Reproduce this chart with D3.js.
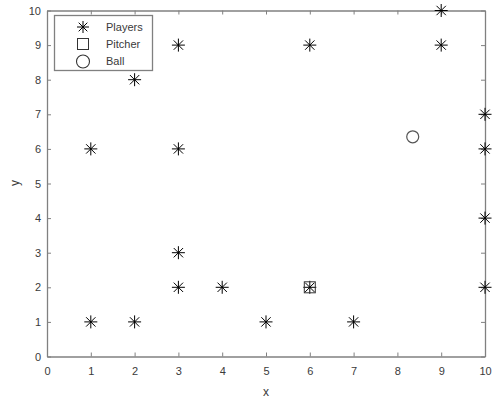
<!DOCTYPE html>
<html>
<head>
<meta charset="utf-8">
<script src="https://cdn.jsdelivr.net/npm/d3@7"></script>
<style>
  body { margin: 0; background: #fff; }
  svg { display: block; font-family: "Liberation Sans", Arial, sans-serif; }
</style>
</head>
<body>
<svg id="chart" width="492" height="399"></svg>
<script>
// Field positions
const playerX = [1, 2, 1, 2, 3, 3, 3, 3, 4, 5, 6, 6, 7, 9, 9, 10, 10, 10, 10];
const playerY = [1, 1, 6, 8, 9, 6, 3, 2, 2, 1, 9, 2, 1, 10, 9, 7, 6, 4, 2];
const pitcherX = [6];
const pitcherY = [2];
const ballX = [8.35];
const ballY = [6.35];
const xTicks = [0, 1, 2, 3, 4, 5, 6, 7, 8, 9, 10];
const yTicks = [0, 1, 2, 3, 4, 5, 6, 7, 8, 9, 10];
const legendLabels = ["Players", "Pitcher", "Ball"];

const svg = d3.select("#chart");
const plotLeft = 47, plotRight = 485, plotTop = 10.5, plotBottom = 356.5;
const axisColor = "#808080";
const textColor = "#3a3a3a";

const x = d3.scaleLinear().domain([0, 10]).range([plotLeft, plotRight]);
const y = d3.scaleLinear().domain([0, 10]).range([plotBottom, plotTop]);

// Axes: inward ticks on all four sides
const tickLen = 4;
const axes = [
  { g: d3.axisBottom(x), t: `translate(0,${plotBottom})`, labels: true, pad: 11 },
  { g: d3.axisTop(x), t: `translate(0,${plotTop})`, labels: false, pad: 8 },
  { g: d3.axisLeft(y), t: `translate(${plotLeft},0)`, labels: true, pad: 6 },
  { g: d3.axisRight(y), t: `translate(${plotRight},0)`, labels: false, pad: 8 }
];
axes.forEach((a, i) => {
  const vals = i < 2 ? xTicks : yTicks;
  const ax = a.g.tickValues(vals).tickSizeInner(-tickLen).tickSizeOuter(0)
    .tickPadding(a.pad).tickFormat(a.labels ? d3.format("d") : () => "");
  const g = svg.append("g").attr("transform", a.t).call(ax);
  g.select(".domain").attr("stroke", axisColor).attr("stroke-width", 1.3);
  g.selectAll(".tick line").attr("stroke", axisColor).attr("stroke-width", 1);
  g.selectAll(".tick text").attr("fill", textColor).style("font-size", "11px")
    .style("font-family", "'Liberation Sans', Arial, sans-serif");
});

// Axis titles
svg.append("text").attr("x", 266).attr("y", 396)
  .attr("text-anchor", "middle").attr("fill", textColor)
  .style("font-size", "12px").text("x");
svg.append("text")
  .attr("transform", `translate(19,${183}) rotate(-90)`)
  .attr("text-anchor", "middle").attr("fill", textColor)
  .style("font-size", "12px").text("y");

// Asterisk marker: a plus and a cross
function asterisk(g, cx, cy, r) {
  const d = r * 0.72;
  const p = `M${cx - r},${cy}H${cx + r}M${cx},${cy - r}V${cy + r}` +
    `M${cx - d},${cy - d}L${cx + d},${cy + d}M${cx - d},${cy + d}L${cx + d},${cy - d}`;
  g.append("path").attr("d", p).attr("stroke", "#000").attr("stroke-width", 1).attr("fill", "none");
}

const marks = svg.append("g");
playerX.forEach((px, i) => asterisk(marks, x(px), y(playerY[i]), 6.5));

pitcherX.forEach((px, i) => {
  marks.append("rect")
    .attr("x", x(px) - 5.5).attr("y", y(pitcherY[i]) - 5.5)
    .attr("width", 11).attr("height", 11)
    .attr("fill", "none").attr("stroke", "#333").attr("stroke-width", 1);
});

ballX.forEach((bx, i) => {
  marks.append("circle")
    .attr("cx", x(bx)).attr("cy", y(ballY[i])).attr("r", 6)
    .attr("fill", "none").attr("stroke", "#555").attr("stroke-width", 1.2);
});

// Legend
const lg = svg.append("g");
lg.append("rect").attr("x", 54.5).attr("y", 15.5).attr("width", 98).attr("height", 55)
  .attr("fill", "#fff").attr("stroke", axisColor).attr("stroke-width", 1.3);
const rowY = [27, 44, 61.5];
asterisk(lg, 83, rowY[0], 6);
lg.append("rect").attr("x", 83 - 5.5).attr("y", rowY[1] - 5.5).attr("width", 11).attr("height", 11)
  .attr("fill", "none").attr("stroke", "#333").attr("stroke-width", 1);
lg.append("circle").attr("cx", 83).attr("cy", rowY[2]).attr("r", 6.5)
  .attr("fill", "none").attr("stroke", "#333").attr("stroke-width", 1.1);
legendLabels.forEach((t, i) => {
  lg.append("text").attr("x", 106).attr("y", rowY[i]).attr("dy", "0.35em")
    .attr("fill", textColor).style("font-size", "11px").text(t);
});
</script>
</body>
</html>
